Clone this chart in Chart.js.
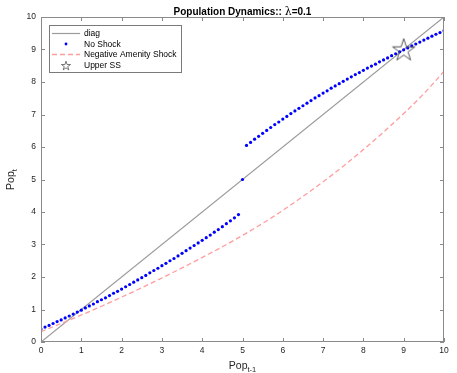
<!DOCTYPE html>
<html>
<head>
<meta charset="utf-8">
<script src="https://cdn.jsdelivr.net/npm/chart.js@4.4.1/dist/chart.umd.min.js"></script>
<style>
  body { margin: 0; background: #fff; }
  #wrap { width: 457px; height: 373px; }
</style>
</head>
<body>
<div id="wrap"><canvas id="pop-canvas" width="457" height="373"></canvas></div>
<script>
// ========== Colors
let diagColor = '#9b9b9b';
let noShockColor = '#0000ff';
let shockColor = '#ff9c9c';
let starColor = '#555555';
let axisColor = '#8a8a8a';
let textColor = '#262626';
let fontFam = "'Liberation Sans', Arial, Helvetica, sans-serif";

// ========== Data
let popPrev = [
    0.0, 0.1, 0.2, 0.3, 0.4, 0.5, 0.6, 0.7, 0.8, 0.9,
    1.0, 1.1, 1.2, 1.3, 1.4, 1.5, 1.6, 1.7, 1.8, 1.9,
    2.0, 2.1, 2.2, 2.3, 2.4, 2.5, 2.6, 2.7, 2.8, 2.9,
    3.0, 3.1, 3.2, 3.3, 3.4, 3.5, 3.6, 3.7, 3.8, 3.9,
    4.0, 4.1, 4.2, 4.3, 4.4, 4.5, 4.6, 4.7, 4.8, 4.9,
    5.0,
    5.1, 5.2, 5.3, 5.4, 5.5, 5.6, 5.7, 5.8, 5.9, 6.0,
    6.1, 6.2, 6.3, 6.4, 6.5, 6.6, 6.7, 6.8, 6.9, 7.0,
    7.1, 7.2, 7.3, 7.4, 7.5, 7.6, 7.7, 7.8, 7.9, 8.0,
    8.1, 8.2, 8.3, 8.4, 8.5, 8.6, 8.7, 8.8, 8.9, 9.0,
    9.1, 9.2, 9.3, 9.4, 9.5, 9.6, 9.7, 9.8, 9.9, 10.0
];
let noShock = [
    0.40, 0.46, 0.51, 0.57, 0.63, 0.68, 0.74, 0.80, 0.86, 0.92,
    0.98, 1.05, 1.11, 1.17, 1.24, 1.30, 1.36, 1.43, 1.50, 1.56,
    1.63, 1.70, 1.77, 1.84, 1.91, 1.98, 2.05, 2.13, 2.20, 2.27,
    2.35, 2.42, 2.50, 2.57, 2.65, 2.73, 2.81, 2.89, 2.97, 3.05,
    3.13, 3.21, 3.29, 3.38, 3.46, 3.55, 3.64, 3.73, 3.82, 3.92,
    5.00,
    6.05, 6.14, 6.24, 6.33, 6.42, 6.51, 6.60, 6.69, 6.77, 6.86,
    6.94, 7.03, 7.11, 7.19, 7.27, 7.35, 7.43, 7.51, 7.58, 7.66,
    7.73, 7.81, 7.88, 7.95, 8.02, 8.09, 8.16, 8.23, 8.29, 8.36,
    8.43, 8.49, 8.55, 8.62, 8.68, 8.74, 8.81, 8.87, 8.93, 8.99,
    9.05, 9.11, 9.17, 9.23, 9.29, 9.35, 9.41, 9.47, 9.52, 9.58
];
let shockPrev = [0, 0.5, 1, 1.5, 2, 2.5, 3, 3.5, 4, 4.5, 5, 5.5, 6, 6.5, 7, 7.5, 8, 8.5, 9, 9.5, 10];
let negShock = [0.32, 0.57, 0.83, 1.10, 1.38, 1.67, 1.97, 2.28, 2.60, 2.93, 3.28, 3.65, 4.05, 4.48, 4.93, 5.41, 5.92, 6.46, 7.03, 7.64, 8.33];
let diagPrev = [0, 10];
let diagNext = [0, 10];
let upperSSPrev = [9.0];
let upperSSNext = [9.0];
let tickVals = [0, 1, 2, 3, 4, 5, 6, 7, 8, 9, 10];

function toPoints(xs, ys) {
    return xs.map((v, i) => ({ x: v, y: ys[i] }));
}

// @ ========== Pentagram marker (Chart.js "star" is an asterisk)
function makeStar(r, color, lw) {
    let c = document.createElement('canvas');
    let s = Math.ceil(r * 2 + 4);
    c.width = s; c.height = s;
    let g = c.getContext('2d');
    g.strokeStyle = color;
    g.lineWidth = lw;
    g.beginPath();
    for (let i = 0; i < 10; i++) {
        let ang = -Math.PI / 2 + i * Math.PI / 5;
        let rad = i % 2 ? r * 0.382 : r;
        let px = s / 2 + rad * Math.cos(ang);
        let py = s / 2 + 1 + rad * Math.sin(ang);
        if (i === 0) g.moveTo(px, py); else g.lineTo(px, py);
    }
    g.closePath();
    g.stroke();
    return c;
}
let bigStar = makeStar(11.8, starColor, 1);
let smallStar = makeStar(4.8, starColor, 0.8);

// @ ========== Matlab-like decorations: box, inner ticks, labels, legend
let matlabDecor = {
    id: 'matlabDecor',
    afterDraw(chart) {
        let ctx = chart.ctx;
        let a = chart.chartArea;
        let xs = chart.scales.x, ys = chart.scales.y;
        ctx.save();

        // box + inner ticks
        ctx.strokeStyle = axisColor;
        ctx.lineWidth = 1;
        ctx.strokeRect(Math.round(a.left) + 0.5, Math.round(a.top) + 0.5,
            Math.round(a.width) - 1, Math.round(a.height) - 1);
        ctx.beginPath();
        tickVals.forEach(v => {
            let px = Math.round(xs.getPixelForValue(v)) + 0.5;
            ctx.moveTo(px, a.bottom); ctx.lineTo(px, a.bottom - 4);
            ctx.moveTo(px, a.top); ctx.lineTo(px, a.top + 4);
            let py = Math.round(ys.getPixelForValue(v)) + 0.5;
            ctx.moveTo(a.left, py); ctx.lineTo(a.left + 4, py);
            ctx.moveTo(a.right, py); ctx.lineTo(a.right - 4, py);
        });
        ctx.stroke();

        // title
        let cx = (a.left + a.right) / 2;
        let parts = [
            { t: 'Population Dynamics:: ', f: 'bold 10px ' + fontFam },
            { t: 'λ', f: '11px "DejaVu Serif", serif' },
            { t: '=0.1', f: 'bold 10px ' + fontFam }
        ];
        let tw = 0;
        parts.forEach(p => { ctx.font = p.f; p.w = ctx.measureText(p.t).width; tw += p.w; });
        let tx = cx - tw / 2;
        ctx.fillStyle = '#000';
        ctx.textBaseline = 'alphabetic';
        parts.forEach(p => { ctx.font = p.f; ctx.fillText(p.t, tx, 14.5); tx += p.w; });

        // x axis label Pop_{t-1}
        ctx.fillStyle = textColor;
        ctx.font = '10.5px ' + fontFam;
        let w1 = ctx.measureText('Pop').width;
        ctx.font = '7.5px ' + fontFam;
        let w2 = ctx.measureText('t-1').width;
        let lx = cx - (w1 + w2) / 2;
        ctx.font = '10.5px ' + fontFam;
        ctx.fillText('Pop', lx, 368.5);
        ctx.font = '7.5px ' + fontFam;
        ctx.fillText('t-1', lx + w1, 372);

        // y axis label Pop_t
        ctx.save();
        ctx.translate(14, (a.top + a.bottom) / 2);
        ctx.rotate(-Math.PI / 2);
        ctx.font = '10.5px ' + fontFam;
        let w3 = ctx.measureText('Pop').width;
        ctx.font = '7.5px ' + fontFam;
        let w4 = ctx.measureText('t').width;
        ctx.font = '10.5px ' + fontFam;
        ctx.fillText('Pop', -(w3 + w4) / 2, 0);
        ctx.font = '7.5px ' + fontFam;
        ctx.fillText('t', -(w3 + w4) / 2 + w3, 3);
        ctx.restore();

        // legend
        let lb = { x: 49.5, y: 25.5, w: 132, h: 47 };
        ctx.fillStyle = '#fff';
        ctx.fillRect(lb.x, lb.y, lb.w, lb.h);
        ctx.strokeStyle = '#7a7a7a';
        ctx.lineWidth = 1;
        ctx.strokeRect(lb.x, lb.y, lb.w, lb.h);
        let rowY = [33.5, 44, 54.5, 65];
        chart.data.datasets.forEach((ds, i) => {
            let y0 = rowY[i];
            ctx.save();
            if (ds.legendKind === 'line') {
                ctx.strokeStyle = ds.borderColor;
                ctx.lineWidth = ds.borderWidth;
                ctx.setLineDash(ds.borderDash || []);
                ctx.beginPath();
                ctx.moveTo(52, y0); ctx.lineTo(80, y0);
                ctx.stroke();
            } else if (ds.legendKind === 'dot') {
                ctx.fillStyle = ds.backgroundColor;
                ctx.beginPath();
                ctx.arc(66, y0, 1.4, 0, Math.PI * 2);
                ctx.fill();
            } else {
                ctx.drawImage(smallStar, 66 - smallStar.width / 2, y0 - smallStar.height / 2);
            }
            ctx.restore();
            ctx.fillStyle = '#000';
            ctx.font = '8.5px ' + fontFam;
            ctx.textBaseline = 'middle';
            ctx.fillText(ds.label, 84, y0 + 0.5);
        });
        ctx.restore();
    }
};

let popCanvas = document.getElementById('pop-canvas');
let popChart = new Chart(popCanvas, {
    type: 'scatter',
    data: {
        datasets: [{
            label: 'diag',
            data: toPoints(diagPrev, diagNext),
            showLine: true,
            borderColor: diagColor,
            borderWidth: 1.2,
            pointRadius: 0,
            legendKind: 'line',
            order: 3
        }, {
            label: 'No Shock',
            data: toPoints(popPrev, noShock),
            showLine: false,
            backgroundColor: noShockColor,
            borderColor: noShockColor,
            borderWidth: 0,
            pointRadius: 1.6,
            legendKind: 'dot',
            order: 1
        }, {
            label: 'Negative Amenity Shock',
            data: toPoints(shockPrev, negShock),
            showLine: true,
            borderColor: shockColor,
            borderWidth: 1.3,
            borderDash: [5, 3],
            cubicInterpolationMode: 'monotone',
            pointRadius: 0,
            legendKind: 'line',
            order: 2
        }, {
            label: 'Upper SS',
            data: toPoints(upperSSPrev, upperSSNext),
            showLine: false,
            pointStyle: bigStar,
            pointRadius: 12,
            legendKind: 'star',
            order: 0
        }]
    },
    options: {
        responsive: false,
        animation: false,
        layout: { padding: { top: 17, right: 6, left: 0, bottom: 0 } },
        plugins: {
            legend: { display: false },
            title: { display: false },
            tooltip: { enabled: false }
        },
        scales: {
            x: {
                type: 'linear',
                min: 0, max: 10,
                afterFit: (scale) => { scale.height = 31; },
                grid: { display: false, drawTicks: false },
                border: { display: false },
                ticks: { stepSize: 1, autoSkip: false, maxRotation: 0, padding: 4,
                    color: textColor, font: { size: 8.5, family: fontFam } }
            },
            y: {
                type: 'linear',
                min: 0, max: 10,
                afterFit: (scale) => { scale.width = 41; },
                grid: { display: false, drawTicks: false },
                border: { display: false },
                ticks: { stepSize: 1, autoSkip: false, padding: 5,
                    color: textColor, font: { size: 8.5, family: fontFam } }
            }
        }
    },
    plugins: [matlabDecor]
});
</script>
</body>
</html>
